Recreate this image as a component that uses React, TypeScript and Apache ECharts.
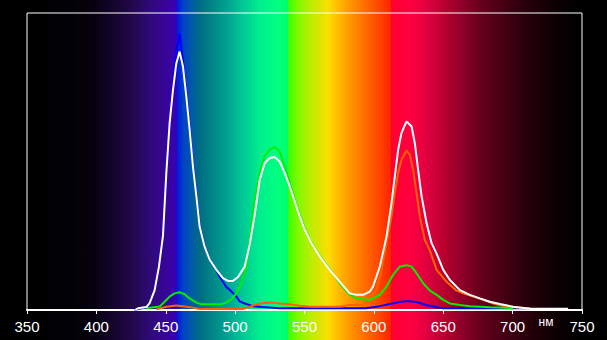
import React, { useEffect, useRef } from "react";
import * as echarts from "echarts";

const xTicks = [350, 400, 450, 500, 550, 600, 650, 700, 750];
const unitLabel = "нм";

const whiteData: number[][] = [
  [428, 0], [430, 0.6], [436, 1.0], [438.4, 2.3], [442, 6.7], [445.1, 14.6], [448, 25], [450.4, 46],
  [452.8, 63], [455.2, 74], [457.6, 83], [460, 87], [462.4, 82], [464.8, 72], [467.2, 60.7], [469.6, 48.3],
  [472.1, 38.2], [474.4, 28.1], [478, 21.3], [481.7, 16.9], [486.5, 13.5], [491.2, 10.7], [494.9, 9.8],
  [498.5, 9.8], [502.1, 11.1], [506.9, 14.6], [510.5, 22], [514.1, 32], [517.7, 43.8], [521.3, 49.5],
  [524.9, 51.2], [528.5, 51.5], [532.1, 50], [535.8, 46.1], [539.4, 41.6], [543, 36.5], [546.6, 31.5],
  [550.2, 27], [555, 22.5], [561, 18], [568.2, 13.5], [575.4, 9.5], [582.6, 5.6], [587.5, 5.1], [592.2, 5.1],
  [597.1, 6.2], [599.4, 7.9], [604.3, 14.6], [609.1, 24.7], [612.7, 36], [615.1, 45], [617.5, 54],
  [619.9, 59.6], [623.5, 63.5], [627.2, 61.8], [629.5, 56.2], [631.9, 47.2], [634.4, 38.2], [638, 29.2],
  [641.6, 22.5], [645.2, 19], [650, 13.5], [654.8, 10.1], [662, 6.7], [669.2, 5.1], [676.4, 3.9],
  [683.6, 2.8], [690.8, 2.0], [700.4, 1.1], [712.5, 0.45], [740, 0.45],
];

const blueData: number[][] = [
  [427.6, 0], [430, 0.3], [436, 0.8], [438.4, 2.2], [442, 6.7], [445.1, 14.8], [448, 25.5], [450.4, 46.8],
  [452.8, 64], [455.2, 76], [457.6, 87], [460, 93.1], [462.4, 84], [464.8, 73], [467.2, 61.5], [469.6, 49],
  [472.1, 38.7], [474.4, 28.5], [478, 21.5], [481.7, 17], [487.6, 12.4], [488.9, 11.2], [493.7, 7.7],
  [496.1, 6.8], [500.9, 4.5], [503.3, 2.9], [506.9, 2.2], [512.9, 1.3], [519.9, 1.0], [532.1, 0.6],
  [556, 0.6], [594.2, 0.6], [604.3, 1.3], [611.5, 2.0], [618.7, 2.7], [623.5, 3.0], [630.7, 2.7],
  [638, 1.7], [645.2, 0.9], [649.7, 0.6], [712.5, 0.6],
];

const greenData: number[][] = [
  [436, 0.6], [445.6, 1.2], [449.2, 2.8], [452.8, 4.5], [456.4, 5.6], [460, 6.0], [463.6, 5.3], [467.2, 3.9],
  [472.1, 2.5], [475.7, 1.9], [488.9, 1.9], [493.7, 2.5], [497.3, 3.6], [500.9, 5.6], [504.5, 9.0],
  [508.1, 14.6], [510.5, 24], [514.1, 37], [517.7, 46.4], [521.3, 51.8], [524.9, 54], [528.5, 54.9],
  [532.1, 53.4], [535.8, 48.3], [539.4, 42.7], [543, 37.1], [546.6, 32], [550.2, 27.5], [555, 22.6],
  [561, 18.2], [568.2, 13.8], [575.4, 9.0], [582.6, 5.1], [587.5, 3.9], [592.2, 3.6], [597.1, 3.4],
  [604.3, 5.1], [609.1, 7.9], [613.8, 11.8], [618.7, 14.6], [623.5, 15.1], [627.2, 14.6], [630.7, 12.4],
  [635.5, 9.0], [640.4, 6.5], [645.2, 5.1], [650, 3.4], [654.8, 2.2], [662, 1.7], [669.2, 1.3],
  [683.6, 0.9], [700.2, 0.6],
];

const redData: number[][] = [
  [443.2, 0.2], [450.4, 1.1], [457.6, 1.5], [462.4, 1.3], [469.6, 0.8], [474.4, 0.3], [505.5, 0.3],
  [510.5, 1.1], [517.7, 2.2], [524.9, 2.5], [532.1, 2.2], [539.4, 1.9], [546.6, 1.4], [553.8, 1.1],
  [575.4, 1.1], [582.6, 1.7], [592, 1.7], [594.7, 2.8], [601.9, 6.7], [605.5, 13.5], [609.1, 22.5],
  [612.7, 31.5], [615.1, 39.4], [617.5, 46.1], [619.9, 50.6], [623.5, 53.7], [625.9, 52.3], [628.3, 47.2],
  [630.7, 39.4], [633.1, 31.5], [636.7, 23.6], [640.4, 20], [645.2, 13.5], [652.4, 9.5], [659.6, 6.5],
  [664.4, 5.6], [671.6, 4.5], [678.8, 3.4], [686, 2.2], [693.2, 1.3], [700.4, 0.9], [712.5, 0.6],
];

// background spectrum colour stops (wavelength, colour)
const spectrumNm = [350, 374, 398, 422, 440, 455, 457.5, 458, 462, 468, 475, 485, 495, 505, 518, 530, 537.5, 538.3, 545, 552, 560, 566, 572, 580, 590, 600, 611.5, 612, 626, 638, 650, 662, 675, 687, 700, 711, 725, 735, 750];
const spectrumColors = ["#000000", "#010003", "#06020f", "#1e0740", "#300a7c", "#3a02a8", "#3400b8", "#0018e0", "#0040c8", "#0058a8", "#006e82", "#008a88", "#00a592", "#00c896", "#00f08e", "#00ff80", "#00ff66", "#40ff00", "#80f800", "#b0f000", "#d8e600", "#f8e000", "#ffc400", "#ffa000", "#ff7800", "#ff5200", "#ff2400", "#ff0030", "#ff0040", "#e00040", "#b8002e", "#900028", "#6a001c", "#500015", "#380010", "#250008", "#140004", "#080002", "#000000"];

export default function App() {
  const ref = useRef<HTMLDivElement>(null);
  useEffect(() => {
    if (!ref.current) return;
    const chart = echarts.init(ref.current, null, { renderer: "svg" });
    const left = 27;
    const right = 582;
    const stops = spectrumNm.map((nm, i) => ({ offset: (nm - 350) / 400, color: spectrumColors[i] }));
    const mkLine = (data: number[][], color: string) => ({
      type: "line",
      data,
      showSymbol: false,
      symbol: "none",
      smooth: false,
      lineStyle: { color, width: 2 },
      silent: true,
    });
    chart.setOption({
      animation: false,
      backgroundColor: "#000000",
      grid: {
        left,
        top: 13,
        right: 607 - right,
        bottom: 30,
        show: true,
        borderColor: "#ffffff",
        borderWidth: 1,
        backgroundColor: "transparent",
      },
      graphic: [
        {
          type: "rect",
          z: -100,
          shape: { x: left, y: 0, width: right - left + 1, height: 340 },
          style: { fill: new echarts.graphic.LinearGradient(0, 0, 1, 0, stops) },
          silent: true,
        },
        {
          type: "text",
          x: 546,
          y: 322,
          style: {
            text: unitLabel,
            fill: "#ffffff",
            font: "12px 'Liberation Sans', Arial, sans-serif",
            textAlign: "center",
            textVerticalAlign: "middle",
          },
        },
      ],
      xAxis: {
        type: "value",
        min: xTicks[0],
        max: xTicks[xTicks.length - 1],
        interval: 50,
        axisLine: { show: true, lineStyle: { color: "#ffffff", width: 2 } },
        axisTick: { show: true, length: 4, lineStyle: { color: "#ffffff", width: 1 } },
        axisLabel: {
          color: "#ffffff",
          fontSize: 15,
          fontFamily: "'Liberation Sans Narrow', 'Liberation Sans', Arial, sans-serif",
          margin: 9,
          showMinLabel: true,
          showMaxLabel: true,
        },
        splitLine: { show: false },
      },
      yAxis: {
        type: "value",
        min: 0,
        max: 100,
        show: false,
        splitLine: { show: false },
      },
      series: [
        mkLine(blueData, "#0000ff"),
        mkLine(redData, "#ff6000"),
        mkLine(greenData, "#00f000"),
        mkLine(whiteData, "#ffffff"),
      ],
    });
    return () => chart.dispose();
  }, []);
  return (
    <div
      ref={ref}
      style={{ position: "fixed", left: 0, top: 0, width: 607, height: 340, background: "#000" }}
    />
  );
}
